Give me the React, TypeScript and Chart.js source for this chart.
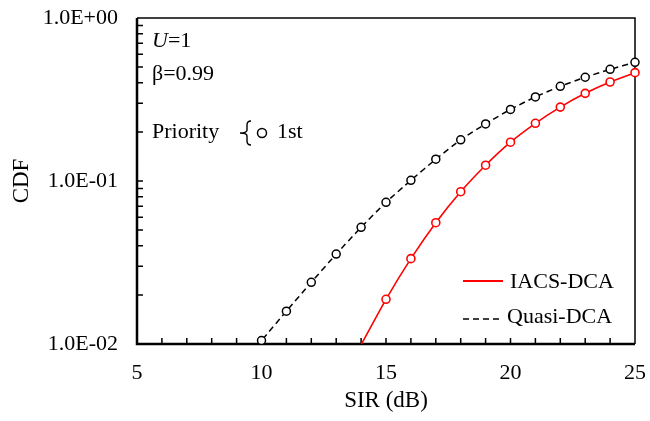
import React, { useEffect, useRef } from "react";
import { Chart, registerables } from "chart.js";

Chart.register(...registerables);

// ---- data ----
const sirQuasi = [9, 10, 11, 12, 13, 14, 15, 16, 17, 18, 19, 20, 21, 22, 23, 24, 25];
const cdfQuasi = [0.007, 0.0105, 0.0159, 0.0239, 0.0356, 0.052, 0.074, 0.101, 0.136, 0.179, 0.224, 0.275, 0.328, 0.381, 0.433, 0.484, 0.535];
const sirIacs = [14, 15, 16, 17, 18, 19, 20, 21, 22, 23, 24, 25];
const cdfIacs = [0.0099, 0.0188, 0.0334, 0.0555, 0.086, 0.125, 0.173, 0.226, 0.284, 0.345, 0.405, 0.462];
const seriesLabels = ["IACS-DCA", "Quasi-DCA"];
const xTicks = [5, 10, 15, 20, 25];
const yTickValues = [0.01, 0.1, 1];
const yTickLabels = ["1.0E-02", "1.0E-01", "1.0E+00"];
const xTitle = "SIR (dB)";
const yTitle = "CDF";
const annoU = ["U", "=1"];
const annoBeta = "β=0.99";
const annoPriority = "Priority";
const annoFirst = "1st";

const FONT = "'Liberation Serif', 'Times New Roman', serif";
const FS = 22;

const framePlugin = {
  id: "frame",
  beforeDatasetsDraw(chart: any) {
    const { ctx, chartArea: a, scales } = chart;
    const xs = scales.x;
    const ys = scales.y;
    ctx.save();
    ctx.strokeStyle = "#000";
    ctx.lineWidth = 1.5;
    ctx.beginPath();
    ctx.moveTo(a.left, a.top);
    ctx.lineTo(a.right, a.top);
    ctx.lineTo(a.right, a.bottom);
    ctx.stroke();
    ctx.beginPath();
    for (let v = xs.min + 1; v < xs.max; v++) {
      const px = xs.getPixelForValue(v);
      ctx.moveTo(px, a.bottom);
      ctx.lineTo(px, a.bottom - 6);
    }
    for (let d = 0.01; d < 1; d *= 10) {
      for (let k = 1; k <= 9; k++) {
        if (k === 1 && d < 0.05) continue;
        const py = ys.getPixelForValue(d * k);
        ctx.moveTo(a.left, py);
        ctx.lineTo(a.left + 6, py);
      }
    }
    ctx.stroke();
    ctx.lineWidth = 2.5;
    ctx.beginPath();
    ctx.moveTo(a.left, a.top);
    ctx.lineTo(a.left, a.bottom);
    ctx.lineTo(a.right, a.bottom);
    ctx.stroke();
    ctx.restore();
  },
  afterDraw(chart: any) {
    const { ctx } = chart;
    ctx.save();
    ctx.fillStyle = "#000";
    ctx.textBaseline = "middle";
    ctx.textAlign = "left";
    ctx.font = `italic ${FS}px ${FONT}`;
    ctx.fillText(annoU[0], 152, 41);
    const uw = ctx.measureText(annoU[0]).width;
    ctx.font = `${FS}px ${FONT}`;
    ctx.fillText(annoU[1], 152 + uw, 41);
    ctx.fillText(annoBeta, 152, 74);
    ctx.fillText(annoPriority, 152, 132);
    ctx.strokeStyle = "#000";
    ctx.lineWidth = 1.4;
    const bx = 247, top = 121, bot = 145, mid = 133;
    ctx.beginPath();
    ctx.moveTo(bx + 4, top);
    ctx.quadraticCurveTo(bx, top, bx, top + 4);
    ctx.lineTo(bx, mid - 3);
    ctx.quadraticCurveTo(bx, mid, bx - 7, mid);
    ctx.quadraticCurveTo(bx, mid, bx, mid + 3);
    ctx.lineTo(bx, bot - 4);
    ctx.quadraticCurveTo(bx, bot, bx + 4, bot);
    ctx.stroke();
    ctx.lineWidth = 1.5;
    ctx.beginPath();
    ctx.arc(262, 133, 4.5, 0, Math.PI * 2);
    ctx.stroke();
    ctx.fillText(annoFirst, 277, 132);

    const ds = chart.data.datasets;
    ctx.lineWidth = 2;
    ctx.strokeStyle = "#ff0000";
    ctx.beginPath();
    ctx.moveTo(463, 281);
    ctx.lineTo(503, 281);
    ctx.stroke();
    ctx.fillText(ds[0].label, 510, 282);
    ctx.strokeStyle = "#000";
    ctx.lineWidth = 1.5;
    ctx.setLineDash([6, 4]);
    ctx.beginPath();
    ctx.moveTo(463, 319);
    ctx.lineTo(500, 319);
    ctx.stroke();
    ctx.setLineDash([]);
    ctx.fillText(ds[1].label, 507, 317);
    ctx.restore();
  },
};

export default function App() {
  const ref = useRef<HTMLCanvasElement>(null);
  useEffect(() => {
    const radius = (c: any) => (c.raw && c.raw.y < 0.01 ? 0 : 4);
    const clip = { left: 10, top: 10, right: 10, bottom: 0 } as any;
    const chart = new Chart(ref.current as HTMLCanvasElement, {
      type: "line",
      data: {
        datasets: [
          {
            label: seriesLabels[0],
            data: sirIacs.map((x, i) => ({ x, y: cdfIacs[i] })),
            borderColor: "#ff0000",
            borderWidth: 1.6,
            pointRadius: radius,
            pointBorderWidth: 1.6,
            pointBorderColor: "#ff0000",
            pointBackgroundColor: "#ffffff",
            tension: 0.2,
            clip,
          },
          {
            label: seriesLabels[1],
            data: sirQuasi.map((x, i) => ({ x, y: cdfQuasi[i] })),
            borderColor: "#000000",
            borderWidth: 1.5,
            borderDash: [6, 4],
            pointRadius: radius,
            pointBorderWidth: 1.5,
            pointBorderColor: "#000000",
            pointBackgroundColor: "#ffffff",
            tension: 0.2,
            clip,
          },
        ],
      },
      options: {
        animation: false,
        responsive: false,
        events: [],
        layout: { padding: { top: 18, right: 15, left: 0, bottom: 0 } },
        plugins: { legend: { display: false }, tooltip: { enabled: false } },
        scales: {
          x: {
            type: "linear",
            min: xTicks[0],
            max: xTicks[xTicks.length - 1],
            afterFit: (s: any) => {
              s.height = 77;
              s.paddingLeft = 0;
              s.paddingRight = 0;
            },
            afterBuildTicks: (s: any) => {
              s.ticks = xTicks.map((v) => ({ value: v }));
            },
            grid: { display: false },
            border: { display: false },
            ticks: {
              color: "#000",
              padding: 8,
              maxRotation: 0,
              font: { family: FONT, size: FS },
              callback: (v: any) => String(v),
            },
            title: {
              display: true,
              text: xTitle,
              color: "#000",
              font: { family: FONT, size: 23 },
              padding: { top: 0, bottom: 6 },
            },
          },
          y: {
            type: "logarithmic",
            min: yTickValues[0],
            max: yTickValues[yTickValues.length - 1],
            afterFit: (s: any) => {
              s.width = 137;
              s.paddingTop = 0;
              s.paddingBottom = 0;
            },
            afterBuildTicks: (s: any) => {
              s.ticks = yTickValues.map((v) => ({ value: v }));
            },
            grid: { display: false },
            border: { display: false },
            ticks: {
              color: "#000",
              padding: 11,
              font: { family: FONT, size: FS },
              callback: (v: any) => {
                const i = yTickValues.findIndex((t) => Math.abs(t - v) < 1e-9);
                return i >= 0 ? yTickLabels[i] : "";
              },
            },
            title: {
              display: true,
              text: yTitle,
              color: "#000",
              font: { family: FONT, size: 23 },
              padding: { top: 8, bottom: 0 },
            },
          },
        },
      },
      plugins: [framePlugin],
    });
    return () => chart.destroy();
  }, []);
  return (
    <div style={{ position: "absolute", left: 0, top: 0, width: 650, height: 421, background: "#fff" }}>
      <canvas ref={ref} width={650} height={421} style={{ display: "block" }} />
    </div>
  );
}
